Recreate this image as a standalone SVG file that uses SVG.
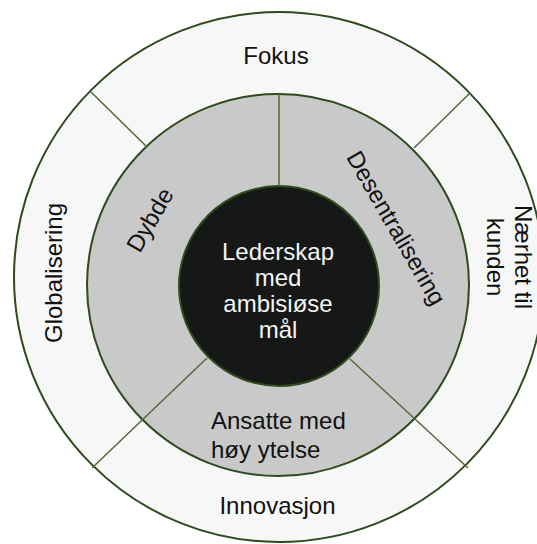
<svg xmlns="http://www.w3.org/2000/svg" width="537" height="544" viewBox="0 0 537 544">
  <style>
    .ring { stroke: #2e4a1e; stroke-width: 2; }
    .outer { fill: #f7f7f7; }
    .middle { fill: #c9c9c9; }
    .core { fill: #151817; }
    .div { stroke: #4f6a3c; stroke-width: 1.5; fill: none; }
    .lbl { font-family: "Liberation Sans", Arial, sans-serif; font-size: 24px; fill: #111; }
    .mid { text-anchor: middle; }
    .white { fill: #f4f4f4; }
  </style>
  <rect width="537" height="544" fill="#ffffff"/>

  <!-- concentric rings -->
  <g id="ring-outer"><circle class="ring outer" cx="279" cy="277" r="265"/></g>
  <g id="ring-middle"><circle class="ring middle" cx="278" cy="285" r="191"/></g>
  <g id="ring-core"><circle class="ring core" cx="279" cy="286" r="100"/></g>

  <!-- sector dividers -->
  <g id="connectors">
    <line class="div" x1="279" y1="94" x2="279" y2="186"/>
    <line class="div" x1="91" y1="92" x2="147" y2="147"/>
    <line class="div" x1="470" y1="93" x2="414" y2="148"/>
    <line class="div" x1="207" y1="358" x2="92" y2="468"/>
    <line class="div" x1="350" y1="359" x2="468" y2="468"/>
  </g>

  <g id="fokus"><text class="lbl mid" x="276" y="64">Fokus</text></g>
  <g id="innovasjon"><text class="lbl mid" x="277.5" y="514">Innovasjon</text></g>
  <g id="globalisering"><text class="lbl mid" transform="translate(62 273) rotate(-90)">Globalisering</text></g>
  <g id="naerhet">
    <text class="lbl mid" transform="translate(515 257) rotate(90)">Nærhet til</text>
    <text class="lbl mid" transform="translate(487 257) rotate(90)">kunden</text>
  </g>
  <g id="dybde"><text class="lbl mid" transform="translate(157 224) rotate(-60)">Dybde</text></g>
  <g id="desentralisering"><text class="lbl mid" transform="translate(389 232) rotate(60)">Desentralisering</text></g>
  <g id="ansatte">
    <text class="lbl" x="211" y="429">Ansatte med</text>
    <text class="lbl" x="211" y="458">høy ytelse</text>
  </g>
  <g id="lederskap">
    <text class="lbl mid white" x="278" y="260">Lederskap</text>
    <text class="lbl mid white" x="278" y="286">med</text>
    <text class="lbl mid white" x="278" y="312">ambisiøse</text>
    <text class="lbl mid white" x="278" y="338">mål</text>
  </g>
</svg>
